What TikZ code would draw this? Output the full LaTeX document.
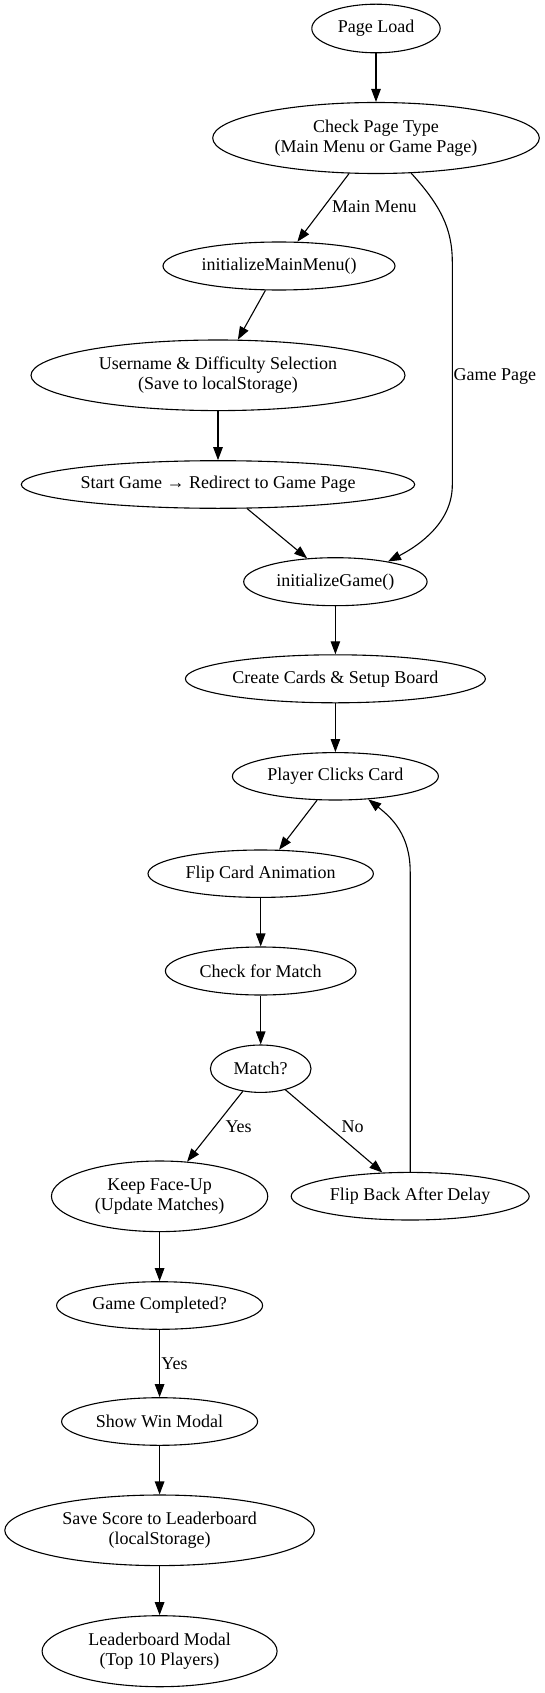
\documentclass[tikz,border=0pt]{standalone}
\usepackage{fontspec}
\setmainfont{Liberation Serif}
\usetikzlibrary{shapes.geometric,arrows.meta}
\begin{document}
\begin{tikzpicture}[x=1pt,y=-1pt,
 nd/.style={ellipse,draw,line width=1.1pt,inner sep=0pt,align=center,font=\fontsize{18}{20}\selectfont},
 ar/.style={line width=1.1pt,-{Triangle[length=13pt,width=9.5pt]}},
 lbl/.style={font=\fontsize{18}{20}\selectfont,inner sep=0pt}]
\useasboundingbox (0,0) rectangle (544,1693);
\node[nd,minimum width=128.4pt,minimum height=48.6pt] (pl) at (376,28.5) {Page Load};
\node[nd,minimum width=326.6pt,minimum height=71pt] (cpt) at (376,138) {Check Page Type\\(Main Menu or Game Page)};
\node[nd,minimum width=232pt,minimum height=48pt] (imm) at (279,266) {initializeMainMenu()};
\node[nd,minimum width=374pt,minimum height=70.6pt] (uds) at (218,375.3) {Username \& Difficulty Selection\\(Save to localStorage)};
\node[nd,minimum width=393.4pt,minimum height=47.6pt] (sg) at (218,484.5) {Start Game → Redirect to Game Page};
\node[nd,minimum width=183.4pt,minimum height=48pt] (ig) at (335.4,581.7) {initializeGame()};
\node[nd,minimum width=300pt,minimum height=48pt] (cc) at (335.4,678.8) {Create Cards \& Setup Board};
\node[nd,minimum width=206pt,minimum height=47.4pt] (pcc) at (335.4,776.3) {Player Clicks Card};
\node[nd,minimum width=225.4pt,minimum height=47.4pt] (fca) at (260.7,873.7) {Flip Card Animation};
\node[nd,minimum width=190.6pt,minimum height=48pt] (cfm) at (260.7,971) {Check for Match};
\node[nd,minimum width=100.6pt,minimum height=47.4pt] (mt) at (260.7,1068.7) {Match?};
\node[nd,minimum width=216.3pt,minimum height=70.6pt] (kfu) at (159.6,1196.3) {Keep Face-Up\\(Update Matches)};
\node[nd,minimum width=238pt,minimum height=47.6pt] (fb) at (410.2,1196.2) {Flip Back After Delay};
\node[nd,minimum width=206pt,minimum height=47.6pt] (gc) at (159.6,1305.5) {Game Completed?};
\node[nd,minimum width=196pt,minimum height=47.6pt] (sw) at (159.6,1421.5) {Show Win Modal};
\node[nd,minimum width=309.6pt,minimum height=70.6pt] (ss) at (159.6,1530.3) {Save Score to Leaderboard\\(localStorage)};
\node[nd,minimum width=235pt,minimum height=71pt] (lm) at (159.6,1651.2) {Leaderboard Modal\\(Top 10 Players)};

\draw[ar] (pl) -- (cpt);
\draw[ar] (cpt) -- (imm);
\draw[ar] (cpt.-45.5) .. controls (440,205) and (452.3,228) .. (452.3,262) -- (452.3,485) .. controls (452.3,522) and (420,545) .. (ig.21);
\draw[ar] (imm) -- (uds);
\draw[ar] (uds) -- (sg);
\draw[ar] (sg) -- (ig);
\draw[ar] (ig) -- (cc);
\draw[ar] (cc) -- (pcc);
\draw[ar] (pcc) -- (fca);
\draw[ar] (fca) -- (cfm);
\draw[ar] (cfm) -- (mt);
\draw[ar] (mt) -- (kfu);
\draw[ar] (mt) -- (fb);
\draw[ar] (fb.north) -- (410.2,872) .. controls (410.2,835) and (392,818) .. (pcc.-35);
\draw[ar] (kfu) -- (gc);
\draw[ar] (gc) -- (sw);
\draw[ar] (sw) -- (ss);
\draw[ar] (ss) -- (lm);

\node[lbl,anchor=base west] (lmm) at (332,213) {Main Menu};
\node[lbl,anchor=base west] (lgp) at (453.4,380) {Game Page};
\node[lbl,anchor=base west] (lyes1) at (225.3,1132) {Yes};
\node[lbl,anchor=base west] (lno) at (341.4,1132) {No};
\node[lbl,anchor=base west] (lyes2) at (161.2,1369) {Yes};
\end{tikzpicture}
\end{document}
